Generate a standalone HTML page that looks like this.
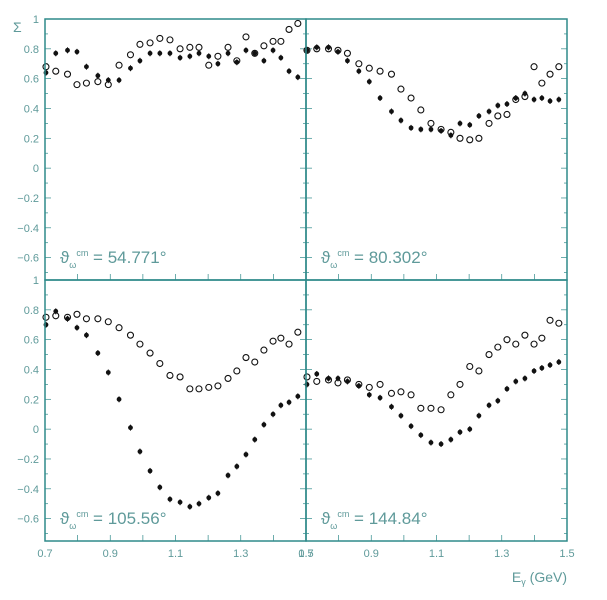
<!DOCTYPE html>
<html><head><meta charset="utf-8"><style>
body{margin:0;background:#fff;}
svg{display:block;font-family:"Liberation Sans",sans-serif;}
</style></head><body>
<svg id="c" width="607" height="600" viewBox="0 0 607 600"></svg>
<script>
const energies=[0.703,0.733,0.769,0.798,0.827,0.862,0.894,0.927,0.962,0.991,1.022,1.052,1.083,1.114,1.144,1.172,1.202,1.230,1.261,1.288,1.316,1.343,1.371,1.399,1.423,1.448,1.475];
const panelLabels=["54.771°","80.302°","105.56°","144.84°"];
const filledP1=[0.64,0.77,0.79,0.78,0.68,0.62,0.59,0.59,0.67,0.72,0.77,0.77,0.77,0.74,0.75,0.77,0.75,0.70,0.77,0.71,0.79,0.77,0.72,0.79,0.74,0.65,0.61];
const openP1=[0.68,0.65,0.63,0.56,0.57,0.58,0.56,0.69,0.76,0.83,0.84,0.87,0.86,0.80,0.81,0.81,0.69,0.75,0.81,0.72,0.88,0.77,0.82,0.85,0.85,0.93,0.97];
const filledP2=[0.79,0.81,0.81,0.78,0.72,0.65,0.58,0.47,0.38,0.32,0.27,0.26,0.26,0.25,0.22,0.30,0.29,0.35,0.38,0.42,0.43,0.47,0.50,0.46,0.47,0.45,0.46];
const openP2=[0.79,0.80,0.80,0.79,0.77,0.70,0.67,0.65,0.63,0.53,0.47,0.39,0.30,0.26,0.24,0.20,0.19,0.20,0.30,0.35,0.36,0.46,0.48,0.68,0.57,0.63,0.68];
const filledP3=[0.70,0.79,0.74,0.68,0.63,0.51,0.38,0.20,0.01,-0.15,-0.28,-0.39,-0.47,-0.49,-0.52,-0.50,-0.46,-0.43,-0.31,-0.25,-0.17,-0.07,0.03,0.10,0.16,0.18,0.22];
const openP3=[0.75,0.76,0.75,0.77,0.74,0.74,0.72,0.68,0.63,0.57,0.51,0.44,0.36,0.35,0.27,0.27,0.28,0.29,0.34,0.39,0.48,0.45,0.53,0.59,0.61,0.57,0.65];
const filledP4=[0.30,0.37,0.34,0.34,0.32,0.29,0.23,0.21,0.15,0.09,0.02,-0.04,-0.09,-0.10,-0.07,-0.02,0.00,0.09,0.16,0.19,0.27,0.32,0.34,0.39,0.41,0.43,0.45];
const openP4=[0.35,0.32,0.33,0.31,0.33,0.30,0.28,0.30,0.24,0.25,0.23,0.14,0.14,0.13,0.23,0.30,0.42,0.39,0.50,0.55,0.60,0.57,0.63,0.57,0.61,0.73,0.71];
const yTicks=[1,0.8,0.6,0.4,0.2,0,-0.2,-0.4,-0.6];
const xTickLabels=[0.7,0.9,1.1,1.3,1.5];

const svg=document.getElementById('c');
const NS='http://www.w3.org/2000/svg';
const LINE='#2f8a8a', TXT='#5f9a9a';
function mk(tag,attrs,parent){const e=document.createElementNS(NS,tag);for(const k in attrs)e.setAttribute(k,attrs[k]);(parent||svg).appendChild(e);return e;}
const panels=[
 {x0:45,x1:306,y0:19,y1:280,f:filledP1,o:openP1,left:true,bottom:false},
 {x0:306,x1:567,y0:19,y1:280,f:filledP2,o:openP2,left:false,bottom:false},
 {x0:45,x1:306,y0:280,y1:541,f:filledP3,o:openP3,left:true,bottom:true},
 {x0:306,x1:567,y0:280,y1:541,f:filledP4,o:openP4,left:false,bottom:true}];
panels.forEach((p,i)=>{
 const g=mk('g',{});
 
 
 const xs=e=>p.x0+(e-0.7)/0.8*(p.x1-p.x0);
 const ys=v=>p.y0+(1-v)/1.75*(p.y1-p.y0);
 // ticks
 for(let v=-0.7;v<=1.0001;v+=0.1){const y=ys(v);const big=Math.abs(Math.round(v*10))%2===0;
  const t=mk('line',{x1:p.x0,x2:p.x0+(big?6:3),y1:y,y2:y,stroke:LINE,'stroke-width':0.7},g);
  
  const t2=mk('line',{x1:p.x1,x2:p.x1-(big?6:3),y1:y,y2:y,stroke:LINE,'stroke-width':0.7},g);
  }
 for(let e=0.7;e<=1.5001;e+=0.1){const x=xs(e);
  const t=mk('line',{x1:x,x2:x,y1:p.y1,y2:p.y1-6,stroke:LINE,'stroke-width':0.7},g);
  }
 if(p.left){yTicks.forEach(v=>{const t=mk('text',{x:p.x0-6,y:ys(v)+4,'text-anchor':'end','font-size':11,fill:TXT},g);t.textContent=String(v).replace('-','\u2212');
  });}
 if(p.bottom){xTickLabels.forEach(v=>{const t=mk('text',{x:xs(v),y:p.y1+16,'text-anchor':'middle','font-size':11,fill:TXT},g);t.textContent=v.toFixed(1);
  });}
 // points
 const err=0.02;
 [[p.o,false],[p.f,true]].forEach(([arr,filled])=>{
  arr.forEach((v,k)=>{const x=xs(energies[k]),y=ys(v);
   const eb=mk('line',{x1:x,x2:x,y1:ys(v+err),y2:ys(v-err),stroke:'#111','stroke-width':1},g);
   
   const c=mk('circle',{cx:x,cy:y,r:filled?2.4:3,fill:filled?'#111':'#fff',stroke:'#111','stroke-width':filled?0:1.1},g);
   });
 });
 const lab=mk('text',{x:p.x0+15,y:p.y1-17,'font-size':17,fill:TXT},g);
 
 lab.innerHTML='ϑ<tspan font-size="9" dy="5">ω</tspan><tspan font-size="9" dy="-12">cm</tspan><tspan dy="7"> = '+panelLabels[i]+'</tspan>';
 const r=mk('rect',{x:p.x0,y:p.y0,width:p.x1-p.x0,height:p.y1-p.y0,fill:'none',stroke:LINE,'stroke-width':1.5},g);
 
});
const ya=mk('text',{x:13,y:32,'font-size':14,fill:TXT});ya.textContent='Σ';

const xa=mk('text',{x:567,y:582,'text-anchor':'end','font-size':14,fill:TXT});xa.innerHTML='E<tspan font-size="9" dy="3">γ</tspan><tspan dy="-3"> (GeV)</tspan>';

</script>
</body></html>
